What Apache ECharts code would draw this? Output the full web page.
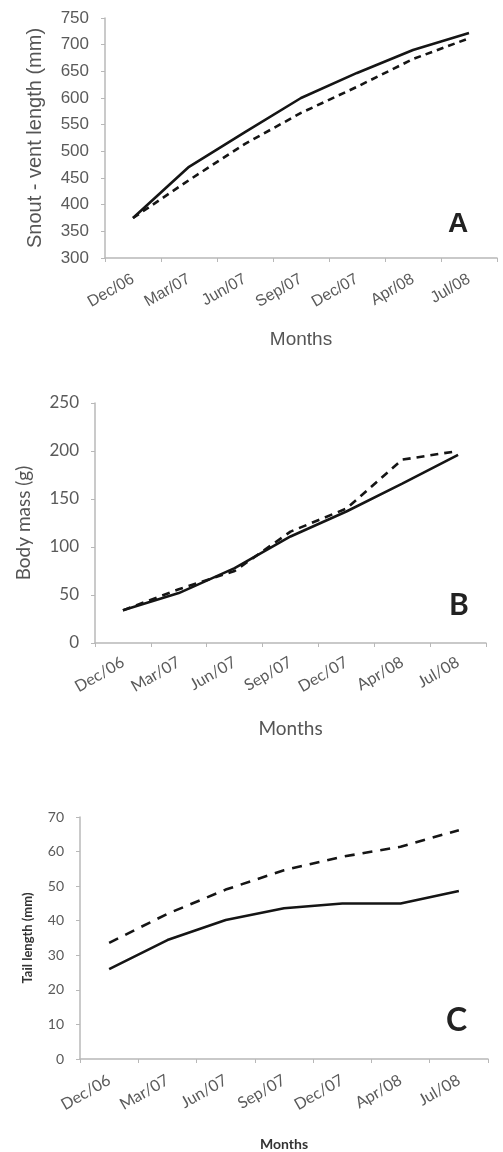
<!DOCTYPE html>
<html>
<head>
<meta charset="utf-8">
<script src="https://cdn.jsdelivr.net/npm/echarts@6/dist/echarts.min.js"></script>
<style>
html,body{margin:0;padding:0;background:#fff;}
#chart{width:503px;height:1152px;}
</style>
</head>
<body>
<div id="chart"></div>
<script>
// Categories (x axis)
var months = ['Dec/06','Mar/07','Jun/07','Sep/07','Dec/07','Apr/08','Jul/08'];

// Panel A: Snout-vent length (mm)
var svlSolid  = [375, 471, 536, 600, 647, 690, 722];
var svlDashed = [375, 446, 514, 572, 621, 673, 712];

// Panel B: Body mass (g)
var massSolid  = [34, 52, 78, 111, 137, 166, 196];
var massDashed = [34, 56, 75, 116, 140, 191, 200];

// Panel C: Tail length (mm)
var tailSolid  = [26, 34.4, 40.2, 43.6, 45, 45, 48.6];
var tailDashed = [33.6, 42, 49, 54.6, 58.5, 61.4, 66.2];

// Axis settings
var yA = {min: 300, max: 750, interval: 50};
var yB = {min: 0, max: 250, interval: 50};
var yC = {min: 0, max: 70, interval: 10};

var axisGray = '#b8b8b8';
var labelGray = '#5a5a5a';

function xAxis(gi, font, size, margin, nameGap, nameSize, bold) {
  return {
    type: 'category', gridIndex: gi, data: months, boundaryGap: true,
    axisLine: {lineStyle: {color: axisGray, width: 1.5}},
    axisTick: {show: true, length: 4, lineStyle: {color: axisGray}},
    axisLabel: {rotate: 30, margin: margin, color: labelGray, fontFamily: font, fontSize: size},
    name: 'Months', nameLocation: 'middle', nameGap: nameGap,
    nameTextStyle: {color: bold ? '#333' : '#555', fontFamily: font, fontSize: nameSize, fontWeight: bold ? 'bold' : 'normal'}
  };
}
function yAxis(gi, cfg, name, font, size, nameGap, nameSize, bold) {
  return {
    type: 'value', gridIndex: gi, min: cfg.min, max: cfg.max, interval: cfg.interval,
    splitLine: {show: false},
    axisLine: {show: true, lineStyle: {color: axisGray, width: 1.5}},
    axisTick: {show: true, length: 4, lineStyle: {color: axisGray}},
    axisLabel: {margin: 16, color: labelGray, fontFamily: font, fontSize: size},
    name: name, nameLocation: 'middle', nameGap: nameGap,
    nameTextStyle: {color: bold ? '#333' : '#555', fontFamily: font, fontSize: nameSize, fontWeight: bold ? 'bold' : 'normal'}
  };
}
function line(gi, data, dashed, dash) {
  return {
    type: 'line', xAxisIndex: gi, yAxisIndex: gi, data: data,
    symbol: 'none', smooth: false, silent: true,
    lineStyle: {color: '#151515', width: 2.6, type: dashed ? dash : 'solid'}
  };
}

var chart = echarts.init(document.getElementById('chart'), null, {renderer: 'canvas'});
chart.setOption({
  backgroundColor: '#fff',
  animation: false,
  title: [
    {text: 'A', left: 443, top: 205, textStyle: {fontFamily: 'Liberation Sans', fontWeight: 'bold', fontSize: 28, color: '#222'}},
    {text: 'B', left: 444, top: 585, textStyle: {fontFamily: 'Lato', fontWeight: 'bold', fontSize: 30, color: '#222'}},
    {text: 'C', left: 441, top: 1000, textStyle: {fontFamily: 'Lato', fontWeight: 'bold', fontSize: 32, color: '#222'}}
  ],
  grid: [
    {left: 105, width: 392, top: 18, height: 240},
    {left: 95, width: 391, top: 403, height: 240},
    {left: 80, width: 408, top: 817, height: 242}
  ],
  xAxis: [
    xAxis(0, 'Liberation Sans', 16, 20, 72, 19, false),
    xAxis(1, 'Lato', 16, 18, 76, 19, false),
    xAxis(2, 'Lato', 16, 20, 78, 14, true)
  ],
  yAxis: [
    yAxis(0, yA, 'Snout - vent length (mm)', 'Liberation Sans', 17, 60, 20, false),
    yAxis(1, yB, 'Body mass (g)', 'Lato', 17, 62, 19, false),
    yAxis(2, yC, 'Tail length (mm)', 'Lato', 14, 46, 13, true)
  ],
  series: [
    line(0, svlSolid, false),
    line(0, svlDashed, true, [7, 5]),
    line(1, massSolid, false),
    line(1, massDashed, true, [8, 6]),
    line(2, tailSolid, false),
    line(2, tailDashed, true, [10, 8])
  ]
});
</script>
</body>
</html>
